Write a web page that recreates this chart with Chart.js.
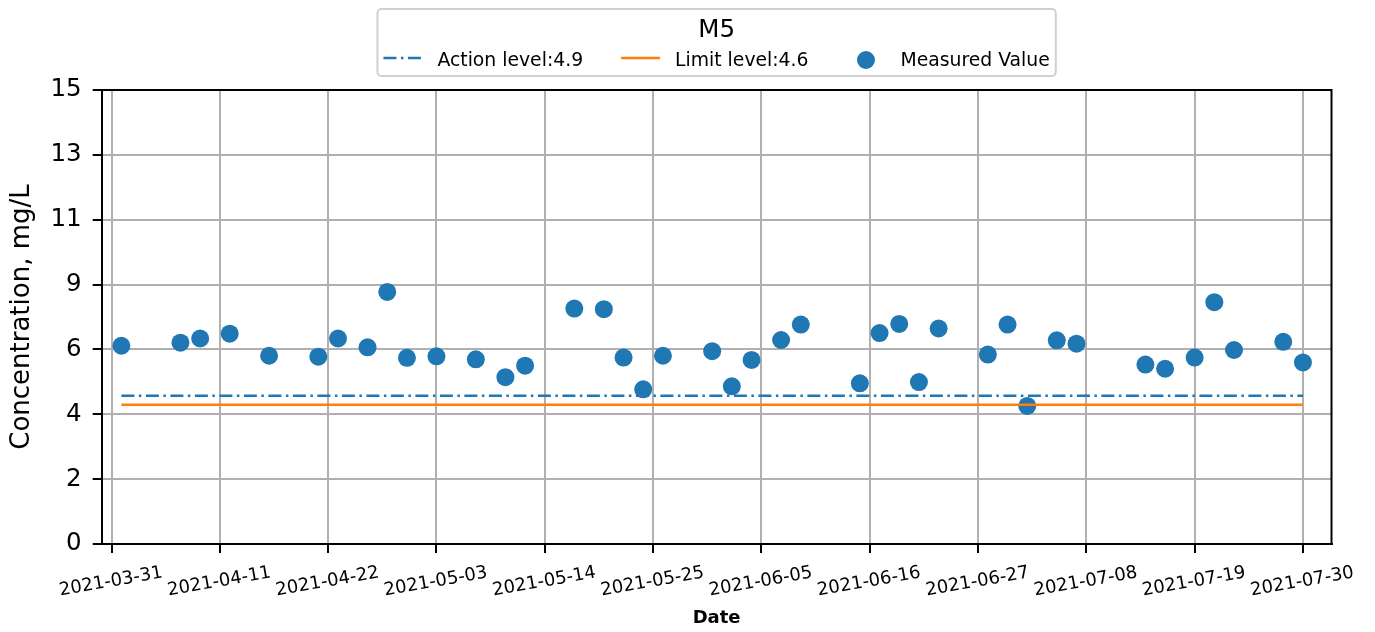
<!DOCTYPE html>
<html>
<head>
<meta charset="utf-8">
<script src="https://cdn.jsdelivr.net/npm/chart.js@4.4.1/dist/chart.umd.min.js"></script>
<style>
  html, body { margin: 0; padding: 0; background: #fff; }
</style>
</head>
<body>
<canvas id="chart" width="1375" height="632"></canvas>
<script>
// station M5 – measured concentration vs. action / limit levels
const stationName = 'M5';

const sampleDates = [
  '2021-04-01', '2021-04-07', '2021-04-09', '2021-04-12', '2021-04-16', '2021-04-21',
  '2021-04-23', '2021-04-26', '2021-04-28', '2021-04-30', '2021-05-03', '2021-05-07',
  '2021-05-10', '2021-05-12', '2021-05-17', '2021-05-20', '2021-05-22', '2021-05-24',
  '2021-05-26', '2021-05-31', '2021-06-02', '2021-06-04', '2021-06-07', '2021-06-09',
  '2021-06-15', '2021-06-17', '2021-06-19', '2021-06-21', '2021-06-23', '2021-06-28',
  '2021-06-30', '2021-07-02', '2021-07-05', '2021-07-07', '2021-07-14', '2021-07-16',
  '2021-07-19', '2021-07-21', '2021-07-23', '2021-07-28', '2021-07-30',
];
const measuredValues = [
  6.55, 6.65, 6.79, 6.95, 6.22, 6.19,
  6.79, 6.50, 8.33, 6.15, 6.20, 6.10,
  5.51, 5.89, 7.78, 7.76, 6.16, 5.11,
  6.22, 6.37, 5.21, 6.08, 6.74, 7.25,
  5.31, 6.97, 7.27, 5.35, 7.12, 6.26,
  7.25, 4.56, 6.73, 6.62, 5.93, 5.79,
  6.16, 7.99, 6.41, 6.68, 6.00,
];

const actionLevel = 4.9;
const limitLevel  = 4.6;

const xTickDates = [
  '2021-03-31', '2021-04-11', '2021-04-22', '2021-05-03', '2021-05-14', '2021-05-25',
  '2021-06-05', '2021-06-16', '2021-06-27', '2021-07-08', '2021-07-19', '2021-07-30',
];
const yTickValues = [0, 15 / 7, 30 / 7, 45 / 7, 60 / 7, 75 / 7, 90 / 7, 15];
const yTickLabels = ['0', '2', '4', '6', '9', '11', '13', '15'];

const BLUE   = '#1f77b4';
const ORANGE = '#ff7f0e';
const FONT   = "'DejaVu Sans', sans-serif";

// x axis is linear in days from the first tick date
const ORIGIN = Date.parse(xTickDates[0]);
const dayOf  = s => (Date.parse(s) - ORIGIN) / 86400000;

const points = sampleDates.map((d, i) => ({ x: dayOf(d), y: measuredValues[i] }));
const levelLine = v => [
  { x: dayOf(sampleDates[0]), y: v },
  { x: dayOf(sampleDates[sampleDates.length - 1]), y: v },
];

Chart.defaults.font.family = FONT;
Chart.defaults.color = '#000';

// rotated date labels centred under each tick
const xDateLabels = {
  id: 'xDateLabels',
  afterDraw(chart) {
    const { ctx, scales: { x } } = chart;
    ctx.save();
    ctx.font = `18px ${FONT}`;
    ctx.fillStyle = '#000';
    ctx.textAlign = 'center';
    ctx.textBaseline = 'alphabetic';
    xTickDates.forEach(d => {
      const px = x.getPixelForValue(dayOf(d));
      ctx.save();
      ctx.translate(px - 1, 580);
      ctx.rotate(-10 * Math.PI / 180);
      ctx.fillText(d, 0, 6.5);
      ctx.restore();
    });
    ctx.restore();
  },
};

// top and right spines
const frame = {
  id: 'frame',
  afterDraw(chart) {
    const { ctx, chartArea: a } = chart;
    ctx.save();
    ctx.strokeStyle = '#000';
    ctx.lineWidth = 2;
    ctx.beginPath();
    ctx.moveTo(a.left, a.top);
    ctx.lineTo(a.right, a.top);
    ctx.lineTo(a.right, a.bottom);
    ctx.stroke();
    ctx.restore();
  },
};

// boxed legend with title above the plot
const legendBox = {
  id: 'legendBox',
  afterDraw(chart) {
    const { ctx, chartArea } = chart;
    const items = chart.data.datasets;
    const handleLen = 39, handleGap = 15, colGap = 38, padX = 6;
    const itemFont = `18.8px ${FONT}`;
    ctx.save();
    ctx.font = itemFont;
    const widths = items.map(d => ctx.measureText(d.label).width);
    const total = widths.reduce((s, w) => s + handleLen + handleGap + w, 0)
      + colGap * (items.length - 1) + padX * 2;
    const left = (chartArea.left + chartArea.right) / 2 - total / 2;
    const top = 9, h = 67;

    ctx.fillStyle = 'rgba(255,255,255,0.8)';
    ctx.strokeStyle = '#d0d0d0';
    ctx.lineWidth = 2;
    ctx.beginPath();
    ctx.roundRect(left, top, total, h, 4);
    ctx.fill();
    ctx.stroke();

    ctx.fillStyle = '#000';
    ctx.textBaseline = 'alphabetic';
    ctx.textAlign = 'center';
    ctx.font = `24.5px ${FONT}`;
    ctx.fillText(stationName, left + total / 2, 36.5);

    ctx.font = itemFont;
    ctx.textAlign = 'left';
    let x = left + padX;
    items.forEach((d, i) => {
      if (d.type === 'line') {
        ctx.save();
        ctx.strokeStyle = d.borderColor;
        ctx.lineWidth = d.borderWidth;
        ctx.setLineDash(d.borderDash || []);
        ctx.beginPath();
        ctx.moveTo(x, 58);
        ctx.lineTo(x + handleLen, 58);
        ctx.stroke();
        ctx.restore();
      } else {
        ctx.fillStyle = d.backgroundColor;
        ctx.beginPath();
        ctx.arc(x + handleLen / 2, 60, d.pointRadius, 0, Math.PI * 2);
        ctx.fill();
      }
      ctx.fillStyle = '#000';
      ctx.fillText(d.label, x + handleLen + handleGap, 65.5);
      x += handleLen + handleGap + widths[i] + colGap;
    });
    ctx.restore();
  },
};

new Chart(document.getElementById('chart'), {
  type: 'scatter',
  data: {
    datasets: [
      {
        label: 'Action level:' + actionLevel,
        type: 'line',
        data: levelLine(actionLevel),
        borderColor: BLUE,
        borderWidth: 2.4,
        borderDash: [13, 4.5, 2.5, 4.5],
        pointRadius: 0,
        order: 0,
      },
      {
        label: 'Limit level:' + limitLevel,
        type: 'line',
        data: levelLine(limitLevel),
        borderColor: ORANGE,
        borderWidth: 2.6,
        pointRadius: 0,
        order: 0,
      },
      {
        label: 'Measured Value',
        data: points,
        backgroundColor: BLUE,
        borderWidth: 0,
        pointRadius: 9,
        pointHoverRadius: 9,
        order: 1,
      },
    ],
  },
  options: {
    responsive: false,
    animation: false,
    layout: { padding: { top: 90, right: 43.5, left: 0, bottom: 0 } },
    plugins: {
      legend:  { display: false },
      tooltip: { enabled: false },
    },
    scales: {
      x: {
        type: 'linear',
        min: -1,
        max: 123.9,
        afterBuildTicks: s => { s.ticks = xTickDates.map(d => ({ value: dayOf(d) })); },
        afterFit: s => { s.height = 88; },
        ticks: { display: false },
        grid: {
          color: '#b0b0b0',
          lineWidth: 2,
          tickLength: 9,
          tickColor: '#000',
          tickWidth: 2,
        },
        border: { color: '#000', width: 2 },
        title: {
          display: true,
          text: 'Date',
          font: { size: 18, weight: 'bold' },
          padding: { top: 0, bottom: 2.5 },
        },
      },
      y: {
        min: 0,
        max: 15,
        afterBuildTicks: s => { s.ticks = yTickValues.map(v => ({ value: v })); },
        afterFit: s => { s.width = 101.7; },
        ticks: {
          autoSkip: false,
          padding: 11,
          font: { size: 24.5 },
          callback: (v, i) => yTickLabels[i],
        },
        grid: {
          color: '#b0b0b0',
          lineWidth: 2,
          tickLength: 9,
          tickColor: '#000',
          tickWidth: 2,
        },
        border: { color: '#000', width: 2 },
        title: {
          display: true,
          text: 'Concentration, mg/L',
          font: { size: 26 },
          padding: { top: 7, bottom: 0 },
        },
      },
    },
  },
  plugins: [xDateLabels, frame, legendBox],
});
</script>
</body>
</html>
